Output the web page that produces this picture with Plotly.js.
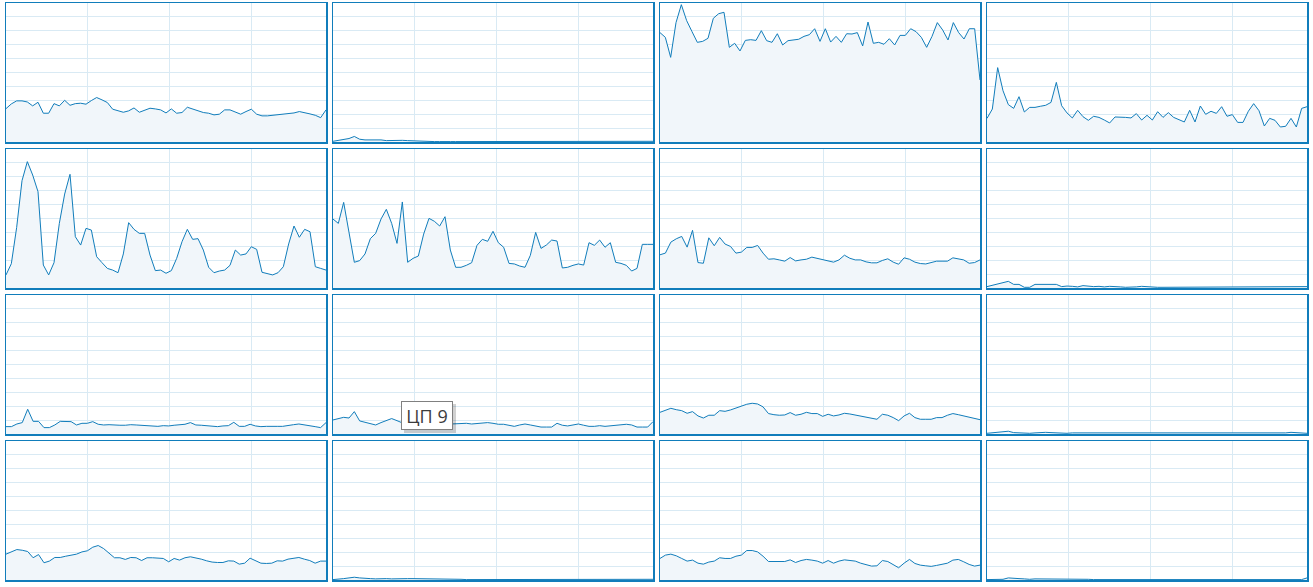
<!DOCTYPE html>
<html>
<head>
<meta charset="utf-8">
<script src="https://cdn.plot.ly/plotly-3.0.1.min.js"></script>
<style>html,body{margin:0;padding:0;background:#fff;}#chart{width:1313px;height:587px;}</style>
</head>
<body>
<div id="chart"></div>
<script>
// CPU usage (%) per logical processor, last 60 seconds
const cpuNames = ["ЦП 0","ЦП 1","ЦП 2","ЦП 3","ЦП 4","ЦП 5","ЦП 6","ЦП 7","ЦП 8","ЦП 9","ЦП 10","ЦП 11","ЦП 12","ЦП 13","ЦП 14","ЦП 15"];
const cpu0 = [24,27.4,29.6,29.6,28.8,26,28.6,20.7,20.7,27.6,26,30,26.4,27.6,27.9,27.2,29.8,32,30.3,28.4,23.6,22.4,21.4,22.4,24.5,21.4,22.8,24.3,23.8,23.1,20.9,23.8,20.7,21.2,25,23.8,22.6,21.2,20.7,19.5,20,23.1,23.1,21.4,20,21.9,23.6,20,18.8,18.8,19.2,19.7,20.2,20.2,20.9,21.9,21.2,20.2,19.2,17.5,23.1];
const cpu1 = [0.5,1,1.5,2.5,4,2,1.5,1.5,2,1.5,1,1.2,1.5,1.2,1,0.8,0.5,0.3,0.3,0.3,0.3,0.5,0.3,0.3,0.3,0.3,0.3,0.5,0.8,0.5,0.3,0.3,0.3,0.3,0.5,0.3,0.3,0.3,0.3,0.3,0.3,0.3,0.3,0.5,0.3,0.3,0.3,0.3,0.5,0.3,0.3,0.3,0.3,0.5,0.8,0.5,0.3,0.3,0.3,0.5,0.5];
const cpu2 = [78.7,75.3,60.9,85.9,98.8,87.3,79.4,71.7,72.4,74.6,89,92.3,93.3,68.1,71,65.5,73.1,73.6,73.1,80.1,72.9,71.7,77.9,69.8,72.9,73.6,73.9,76,77.2,81.5,72.4,81.5,71.9,76,71.7,77.9,77.7,78.7,69.1,86.3,71,71.7,70.3,74.3,69.8,76.7,76.7,81.5,79.4,75.3,68.1,76,85.9,80.6,73.4,85.9,78.7,74.1,81.5,81.5,44.6];
const cpu3 = [17,23.7,53.5,36.9,26.9,24.2,32.6,21.6,24.9,24.9,25.7,26.4,28.5,42.9,26.1,20.9,17.3,22.8,18.2,15.6,18.5,17.7,15.8,13.7,18,18,17.7,17.3,20.4,15.8,19.2,15.8,21.8,17.7,21.1,17.7,15.8,14.4,22.8,14.4,25.9,19.9,22.1,20.6,25.4,18.5,19.7,14.1,14.1,22.1,27.6,22.5,11.5,17,15.6,10.8,11.3,17,10.8,24.2,25.4];
const cpu4 = [9.4,17.5,43.6,77.2,90.9,81.3,69.3,16.5,9.4,18.2,46.5,67.6,81.8,36.9,30.9,42.9,41.7,22.5,18.2,14.1,12.9,11,24.5,47,42.2,39.3,39.3,23.7,12.5,12.9,10.6,12.5,21.3,33.3,42.2,35,35.5,27.3,14.9,11,12.2,12.9,16.3,27.3,23.7,24.5,29.7,27.8,11.3,10.6,9.4,11,15.3,31.7,44.6,36.5,42.2,40.5,15.3,14.1,12.9];
const cpu5 = [49.6,46.5,61.6,40.5,18.5,19.7,24.5,35.5,39.3,49.6,56.6,46.5,32.1,61.9,18.5,21.3,23,38.8,50.1,48,44.6,51.3,27.3,14.9,14.9,16.3,18.2,30.7,35,33.6,40.8,32.6,29.3,17.7,17.3,15.8,14.9,23.5,40,28.5,30.9,34.5,33.8,14.4,14.9,16.3,17.3,16.5,32.6,30.7,34.5,29.3,32.6,18.5,17.7,16.3,12.2,14.1,31.4,31.4,31.4];
const cpu6 = [23.9,25.1,33,35.4,37.1,29.4,41.5,18.3,17.8,36.1,30.4,36.4,31.6,29.9,25.1,25.8,29.2,29.2,30.6,25.1,20.7,21,20.2,19.3,21.9,19.5,20.2,20.7,22.2,21.4,20.2,19.8,18.6,20.2,23.6,21.4,20.2,20.2,18.8,18.1,18.1,19.8,21,18.6,17.1,21.7,20.7,18.6,17.6,17.3,18.1,19.3,19.3,19.3,21.7,21,20.2,17.8,18.3,20.2];
const cpu7 = [1,1.9,2.6,3.4,4.8,2.6,2.6,0.5,0.5,2.6,2.6,2.6,2.6,2.6,1,1.4,1.2,0.8,1.7,1.2,1,1.2,0.8,1.2,1.2,0.8,0.5,0.5,0.8,1.2,0.8,0.5,0.5,0.5,0.5,0.5,0.8,0.8,0.5,0.5,0.5,0.5,0.5,0.5,0.5,0.5,0.5,0.5,0.8,0.8,0.5,0.5,0.5,0.5,0.5,0.5,0.5,0.8,0.8,0.5,1];
const cpu8 = [5.3,5.3,7.2,8.2,17.8,9.1,9.1,4.6,4.6,6.5,9.1,9.1,8.9,6.5,7.7,7.7,8.9,7,6.5,6.7,6.3,6.3,6.3,6.7,6.5,6.3,6,5.5,5.5,6,5.8,6.3,6.7,7,8.2,6.5,6.3,5.8,5.3,5.3,5.8,6,8.4,5.5,5.5,7,5.8,5.3,5.5,5.3,5.5,5.5,6.3,6.7,7.2,6.7,5.8,5.3,4.6,8.2];
const cpu9 = [10.1,10.8,12,11.5,16.1,9.4,8.4,7.2,6.5,8.2,9.6,11.1,9.6,8,7.5,8,8.5,7.5,7,7.5,8,7,7.2,7.5,7.2,7.7,7.2,7.7,7.9,8.2,7.7,7,7,6.3,5.5,6.5,7.2,6.5,5.5,5,5,5,7.7,6.3,5.8,6.7,7.2,6.3,5.5,5.5,6,5.5,5.8,6.5,6.7,7,6.5,5,5,5,8.9];
const cpu10 = [15.6,17.1,18.5,17.5,16.8,14.9,16.1,13,11.5,13.5,13.5,16.8,16.3,17.3,18.8,20.2,21.4,22.1,21.6,19.5,14.7,13.9,13.5,13.7,15.4,13.5,14.2,15.6,14.7,14.7,12.7,14.2,13,13.7,14.9,14.4,13.7,12.5,11.8,11.1,10.6,14.2,13.5,11.8,9.6,13,14.9,11.8,10.6,10.6,10.6,11.8,11.8,13.5,14.7,13.9,13,12,11.1,10.3];
const cpu11 = [0.5,0.8,1,1.2,2,1,0.8,0.5,0.5,0.8,1.2,1.2,1,0.8,0.5,0.5,0.8,0.8,0.5,0.5,0.8,0.8,0.5,0.3,0.5,0.8,0.8,0.5,0.3,0.3,0.5,0.8,0.8,0.8,0.5,0.3,0.3,0.3,0.5,0.3,0.3,0.3,0.3,0.5,0.8,0.5,0.3,0.3,0.5,0.3,0.3,0.3,0.3,0.3,0.3,0.5,0.8,1.2,0.8,0.8,0.5];
const cpu12 = [18.6,20.5,21.9,21.4,20.5,16,18.3,12.4,13.6,16.2,16.2,17.1,17.9,18.6,20.2,21,23.6,24.8,22.6,19.5,16,16,14.8,16.2,16,14,16,16,15.5,15.5,13.1,15.5,14.3,16,16.7,16,15,13.8,12.9,12.6,12.6,13.8,13.6,11.4,12.1,15.7,13.6,12.1,11.9,12.1,13.8,13.6,15,15.5,16.2,15,14,12.1,13.6,13.6];
const cpu13 = [0.3,0.5,1,1.5,2,1.5,1,1,0.8,1,1,0.8,1,1,1,1,1,0.8,1,1,1,1,1,0.8,0.5,0.3,0.3,0.3,0.3,0.3,0.3,0.3,0.3,0.3,0.3,0.3,0.5,0.3,0.3,0.3,0.3,0.3,0.3,0.3,0.3,0.3,0.3,0.3,0.3,0.3,0.3,0.3,0.3,0.3,0.3,0.3,0.5,0.8,0.5,0.3,0.5];
const cpu14 = [15.5,17.9,18.6,17.4,15.5,13.6,14.3,12.1,11.4,12.9,13.6,16,15.5,15.5,17.1,17.9,21.2,21.2,20.2,17.1,13.3,13.3,13.3,13.3,14.5,12.6,14,14.8,14.3,13.6,12.1,14,12.1,13.6,14.5,14,13.6,12.1,11.2,10,10.2,14,13.3,11.2,8.8,12.1,14.8,11.9,10.7,10.2,9.8,10.5,11.4,12.1,14.3,14.8,13.1,11.2,10,10.7];
const cpu15 = [0.3,0.3,0.5,0.5,1.5,1,1,0.8,0.5,0.8,0.8,0.8,0.5,0.5,0.8,1,1,0.8,0.8,0.5,0.3,0.3,0.3,0.3,0.3,0.3,0.3,0.3,0.3,0.3,0.3,0.3,0.3,0.3,0.3,0.3,0.3,0.3,0.3,0.3,0.3,0.3,0.3,0.5,0.5,0.3,0.3,0.3,0.3,0.3,0.3,0.3,0.3,0.5,0.3,0.3,0.3,0.3,0.3,0.3,1.5];
const tooltipText = "ЦП 9";

const series = [cpu0,cpu1,cpu2,cpu3,cpu4,cpu5,cpu6,cpu7,cpu8,cpu9,cpu10,cpu11,cpu12,cpu13,cpu14,cpu15];

const W = 1313, H = 587;
const colLeft = [6, 333, 660, 987], panelW = 320;
const rowTop = [3, 149, 295, 441], panelH = 139;
const lineColor = "#117DBB", gridColor = "#D9EAF4", fillColor = "#F1F6FA";

const data = [];
const layout = {
  width: W, height: H,
  margin: {l:0, r:0, t:0, b:0},
  paper_bgcolor: "#ffffff", plot_bgcolor: "#ffffff",
  showlegend: false,
  hovermode: false,
  annotations: [], shapes: []
};

series.forEach((vals, i) => {
  const r = Math.floor(i / 4), c = i % 4;
  const n = vals.length;
  const xs = vals.map((_, k) => k * 60 / (n - 1));
  const sfx = i === 0 ? "" : String(i + 1);
  data.push({
    type: "scatter", mode: "lines",
    x: xs, y: vals, name: cpuNames[i],
    xaxis: "x" + sfx, yaxis: "y" + sfx,
    line: {color: lineColor, width: 1},
    fill: "tozeroy", fillcolor: fillColor
  });
  layout["xaxis" + sfx] = {
    domain: [colLeft[c] / W, (colLeft[c] + panelW) / W],
    range: [0, 60], tick0: 15.35, dtick: 15.3,
    showgrid: true, gridcolor: gridColor, gridwidth: 1,
    zeroline: false, showticklabels: false, ticks: "",
    showline: true, mirror: true, linecolor: lineColor, linewidth: 1.5,
    anchor: "y" + sfx, fixedrange: true
  };
  layout["yaxis" + sfx] = {
    domain: [(H - rowTop[r] - panelH) / H, (H - rowTop[r]) / H],
    range: [0, 100], tick0: 0, dtick: 10,
    showgrid: true, gridcolor: gridColor, gridwidth: 1,
    zeroline: false, showticklabels: false, ticks: "",
    showline: true, mirror: true, linecolor: lineColor, linewidth: 1.5,
    anchor: "x" + sfx, fixedrange: true
  };
});

// tooltip shadow + box
layout.shapes.push({
  type: "rect", xref: "paper", yref: "paper", layer: "above",
  x0: 404 / W, x1: 456 / W, y0: (H - 433) / H, y1: (H - 404) / H,
  fillcolor: "rgba(0,0,0,0.18)", line: {width: 0}
});
layout.annotations.push({
  xref: "paper", yref: "paper", x: 427 / W, y: (H - 415.5) / H,
  xanchor: "center", yanchor: "middle", showarrow: false,
  text: tooltipText,
  font: {family: "Open Sans, Noto Sans, sans-serif", size: 18, color: "#3c3c3c"},
  bgcolor: "#ffffff", bordercolor: "#808080", borderwidth: 1, borderpad: 3,
  width: 44, height: 21
});

Plotly.newPlot("chart", data, layout, {displayModeBar: false, staticPlot: true});
</script>
</body>
</html>
